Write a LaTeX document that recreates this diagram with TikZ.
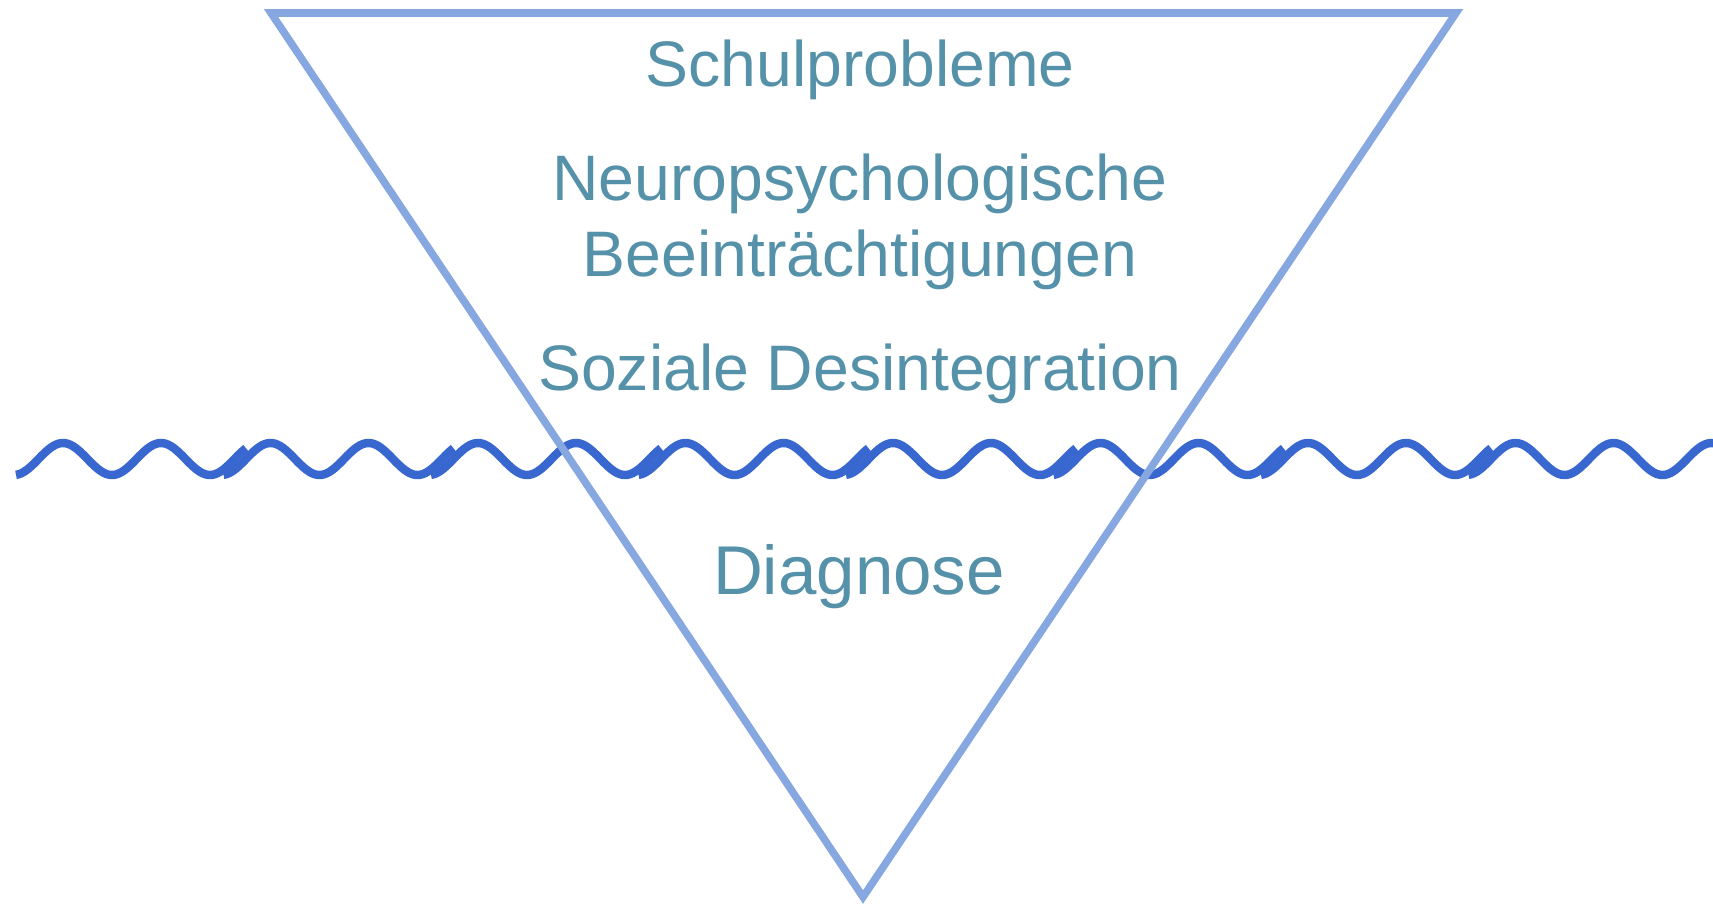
\documentclass[tikz,border=0pt]{standalone}
\usepackage{fontspec}
\setmainfont{Liberation Sans}
\usetikzlibrary{positioning}
\definecolor{funnelblue}{HTML}{87A7E1}
\definecolor{waveblue}{HTML}{3867CF}
\definecolor{labelteal}{HTML}{5592A9}

\begin{document}
\begin{tikzpicture}[
  x=0.2mm, y=-0.2mm,
  funnel/.style={draw=funnelblue, line width=4.3pt, line join=miter},
  wave/.style={draw=waveblue, line width=4.8pt},
  lbl/.style={text=labelteal, align=center, anchor=base, inner sep=0pt,
              font=\fontsize{36.6}{43.2}\selectfont},
]
\useasboundingbox (0,0) rectangle (1713,906);

% Funnel (upside-down triangle)
\coordinate (tl) at (271,13);
\coordinate (tr) at (1456,13);
\coordinate (apex) at (863,897);

% Wavy line, built from overlapping pieces (period 98)
\foreach \k in {0,...,7} {
  \pgfmathsetmacro\len{\k==7 ? 250 : 230}
  \draw[wave] plot[domain=0:\len, samples=90, smooth]
    ({16+207.5*\k+\x}, {459-16*cos((\x-47)*3.6735)});
}

\draw[funnel] (tl) -- (tr) -- (apex) -- cycle;

% Labels
\node[lbl] (schule) at (860,86) {Schulprobleme};
\node[lbl] (neuro) at (860,276) {Neuropsychologische\\Beeinträchtigungen};
\node[lbl] (sozial) at (860,390) {Soziale Desintegration};
\node[lbl, font=\fontsize{39.3}{47}\selectfont] (diag) at (859,594) {Diagnose};

\end{tikzpicture}
\end{document}
